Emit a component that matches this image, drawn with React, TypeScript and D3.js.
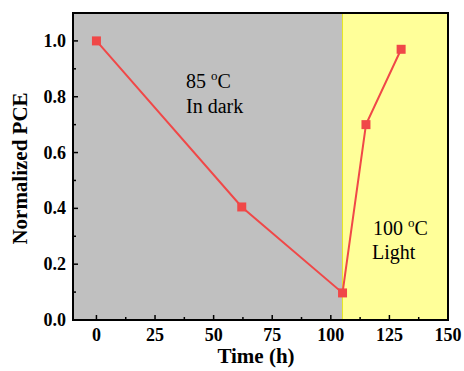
import React from "react";
import * as d3 from "d3";

const timeH = [0, 62, 105, 115, 130];
const pce = [1.0, 0.405, 0.097, 0.7, 0.97];
const xTicks = [0, 25, 50, 75, 100, 125, 150];
const yTicks = [0, 0.2, 0.4, 0.6, 0.8, 1.0];
const darkEnd = 105;

const W = 464;
const H = 371;
const M = { left: 73, top: 13, right: 16, bottom: 51 };

export default function App() {
  const x = d3.scaleLinear().domain([-10, 150]).range([M.left, W - M.right]);
  const y = d3.scaleLinear().domain([0, 1.1]).range([H - M.bottom, M.top]);
  const pts = timeH.map((t, i) => [x(t), y(pce[i])] as [number, number]);
  const line = d3.line()(pts) || "";
  const x0 = M.left, x1 = W - M.right, y0 = H - M.bottom, y1 = M.top;
  const xMinor = d3.range(-12.5, 150, 12.5).filter((v) => v > -10 && !xTicks.includes(v));
  const yMinor = d3.range(0.1, 1.1, 0.2);
  const font = "'Liberation Serif', 'Times New Roman', serif";
  return (
    <svg width={W} height={H} style={{ position: "absolute", left: 0, top: 0 }} fontFamily={font}>
      <rect x={x0} y={y1} width={x(darkEnd) - x0} height={y0 - y1} fill="#c0c0c0" />
      <rect x={x(darkEnd)} y={y1} width={x1 - x(darkEnd)} height={y0 - y1} fill="#ffff99" />
      <line x1={x(darkEnd)} x2={x(darkEnd)} y1={y1} y2={y0} stroke="#e6e620" strokeWidth={1} />
      {xTicks.map((t) => (
        <g key={"xt" + t}>
          <line x1={x(t)} x2={x(t)} y1={y0} y2={y0 - 5} stroke="#000" strokeWidth={1.5} />
          <text x={x(t)} y={341} textAnchor="middle" fontSize={18} fontWeight="bold">{t}</text>
        </g>
      ))}
      {xMinor.map((t) => (
        <line key={"xm" + t} x1={x(t)} x2={x(t)} y1={y0} y2={y0 - 3} stroke="#000" strokeWidth={1.5} />
      ))}
      {yTicks.map((t) => (
        <g key={"yt" + t}>
          <line x1={x0} x2={x0 + 5} y1={y(t)} y2={y(t)} stroke="#000" strokeWidth={1.5} />
          <text x={66} y={y(t) + 6} textAnchor="end" fontSize={18} fontWeight="bold">{t.toFixed(1)}</text>
        </g>
      ))}
      {yMinor.map((t) => (
        <line key={"ym" + t} x1={x0} x2={x0 + 3} y1={y(t)} y2={y(t)} stroke="#000" strokeWidth={1.5} />
      ))}
      <rect x={x0} y={y1} width={x1 - x0} height={y0 - y1} fill="none" stroke="#000" strokeWidth={2} />
      <path d={line} fill="none" stroke="#f04848" strokeWidth={2} />
      {pts.map(([px, py], i) => (
        <rect key={"p" + i} x={px - 4.5} y={py - 4.5} width={9} height={9} fill="#f04848" />
      ))}
      <text x={186} y={88} fontSize={20}>
        85 <tspan fontSize={13} dy={-8}>o</tspan><tspan dy={8}>C</tspan>
      </text>
      <text x={186} y={113} fontSize={20}>In dark</text>
      <text x={373} y={235} fontSize={20}>
        100 <tspan fontSize={13} dy={-8}>o</tspan><tspan dy={8}>C</tspan>
      </text>
      <text x={372} y={259} fontSize={20}>Light</text>
      <text x={256} y={363} textAnchor="middle" fontSize={21} fontWeight="bold">Time (h)</text>
      <text transform={`translate(27,${(y0 + y1) / 2 + 2}) rotate(-90)`} textAnchor="middle" fontSize={21} fontWeight="bold">Normalized PCE</text>
    </svg>
  );
}
